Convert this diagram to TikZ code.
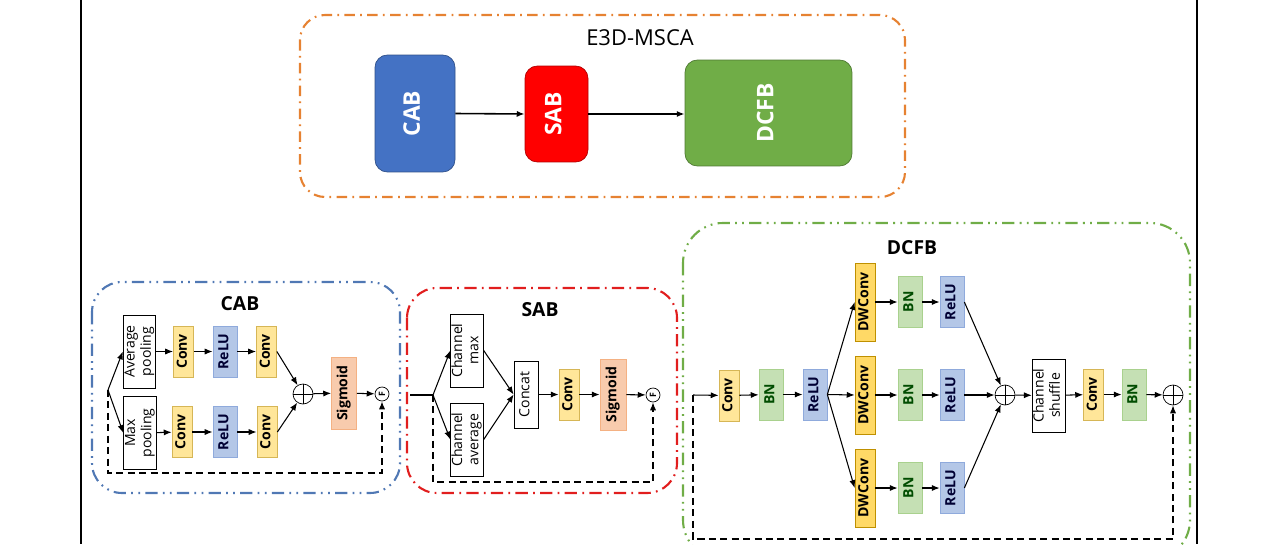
\documentclass[tikz,border=0pt]{standalone}
\usepackage{graphicx}
\usepackage{fontspec}
\setmainfont{Open Sans}
\usepackage{tikz}
\usetikzlibrary{
	arrows.meta,
	calc,
	positioning
}
\definecolor{FrameOrange}{RGB}{230,130,50}
\definecolor{FrameBlue}{RGB}{80,120,180}
\definecolor{FrameRed}{RGB}{225,30,30}
\definecolor{FrameGreen}{RGB}{112,173,71}
\definecolor{CabBlue}{RGB}{68,114,196}
\definecolor{SabRed}{RGB}{255,0,0}
\definecolor{DcfbGreen}{RGB}{112,173,71}
\definecolor{ConvFill}{RGB}{255,230,153}
\definecolor{ConvLine}{RGB}{214,182,86}
\definecolor{DwFill}{RGB}{255,217,102}
\definecolor{DwLine}{RGB}{191,144,0}
\definecolor{ReluFill}{RGB}{180,199,231}
\definecolor{ReluLine}{RGB}{143,170,220}
\definecolor{BnFill}{RGB}{197,224,180}
\definecolor{BnLine}{RGB}{169,209,142}
\definecolor{SigFill}{RGB}{248,203,173}
\definecolor{SigLine}{RGB}{244,177,131}
\newcommand{\vtext}[1]{\rotatebox{90}{\begin{tabular}{@{}c@{}}#1\end{tabular}}}

\begin{document}
\begin{tikzpicture}[x=0.02cm, y=-0.02cm,
		blk/.style={inner sep=0pt, font=\fontsize{8}{9.5}\selectfont\bfseries},
		convbox/.style={blk, draw=ConvLine, fill=ConvFill, minimum width=0.4cm, minimum height=1.02cm},
		dwbox/.style={blk, draw=DwLine, fill=DwFill, minimum width=0.4cm, minimum height=1.56cm},
		relubox/.style={blk, draw=ReluLine, fill=ReluFill, minimum width=0.48cm, minimum height=1.02cm, text=black!80!blue},
		bnbox/.style={blk, draw=BnLine, fill=BnFill, minimum width=0.48cm, minimum height=1.02cm, text=black!70!green},
		sigbox/.style={blk, draw=SigLine, fill=SigFill, minimum width=0.5cm, minimum height=1.44cm},
		txtbox/.style={blk, draw, fill=white, minimum width=0.63cm, minimum height=1.46cm, font=\fontsize{8}{9.3}\selectfont},
		bigbox/.style={inner sep=0pt, draw, rounded corners=7pt, text=white, font=\fontsize{13}{13}\selectfont\bfseries},
		addc/.style={circle, draw, minimum size=0.4cm, inner sep=0pt, path picture={
				\draw (path picture bounding box.north) -- (path picture bounding box.south)
				(path picture bounding box.west) -- (path picture bounding box.east);}},
		fcirc/.style={circle, draw, minimum size=0.28cm, inner sep=0pt, font=\fontsize{5}{5}\selectfont\bfseries},
		frame/.style={line width=1.2pt, rounded corners=0.6cm},
		title/.style={font=\fontsize{11}{11}\selectfont\bfseries},
		arr/.style={-{Latex[length=4.5pt, width=3.5pt]}, line width=0.6pt},
		skip/.style={-{Latex[length=4.5pt, width=3.5pt]}, line width=0.6pt, dashed, dash pattern=on 4pt off 2.5pt}
	]
	\useasboundingbox (0,0) rectangle (1280,544);
	% page edges
	\draw[line width=1.3pt] (81,0) -- (81,544);
	\draw[line width=1.3pt] (1197,0) -- (1197,544);
	
	% overview
	\draw[frame, FrameOrange, rounded corners=0.5cm, dash pattern=on 6pt off 3pt on 1pt off 3pt] (300,15) rectangle (905,197);
	\node[font=\fontsize{12.5}{12}\selectfont] at (640,38) {E3D-MSCA};
	\node[bigbox, fill=CabBlue, draw=CabBlue!70!black, minimum width=1.6cm, minimum height=2.34cm] (cabT) at (415,113.5) {\vtext{CAB}};
	\node[bigbox, fill=SabRed, draw=SabRed!70!black, minimum width=1.26cm, minimum height=1.92cm] (sabT) at (556.5,114) {\vtext{SAB}};
	\node[bigbox, fill=DcfbGreen, draw=DcfbGreen!70!black, minimum width=3.34cm, minimum height=2.12cm] (dcfbT) at (768.5,113) {\vtext{DCFB}};
	\draw[arr, line width=0.9pt] (cabT.east) -- (sabT.west);
	\draw[arr, line width=0.9pt] (sabT.east) -- (dcfbT.west |- sabT.east);
	
	% CAB
	\draw[frame, FrameBlue, dash pattern=on 7pt off 3pt on 1pt off 3pt on 1pt off 3pt] (92,282) rectangle (400,493);
	\node[title] at (240,304) {CAB};
	\coordinate (cabin) at (108,390);
	\node[txtbox] (avgp) at (139.5,351.5) {\vtext{Average\\pooling}};
	\node[txtbox] (maxp) at (140,433) {\vtext{Max\\pooling}};
	\node[convbox] (c1) at (183.5,351.5) {\vtext{Conv}};
	\node[relubox] (r1) at (225,351.5) {\vtext{ReLU}};
	\node[convbox] (c2) at (266.5,351.5) {\vtext{Conv}};
	\node[convbox] (c3) at (182,432) {\vtext{Conv}};
	\node[relubox] (r2) at (225,432) {\vtext{ReLU}};
	\node[convbox] (c4) at (267,432) {\vtext{Conv}};
	\node[addc] (cadd) at (303,394) {};
	\node[sigbox] (csig) at (344,393) {\vtext{Sigmoid}};
	\node[fcirc] (cf) at (382,394) {\rotatebox{90}{F}};
	\draw[arr] (cabin) -- (avgp.west);
	\draw[arr] (cabin) -- (maxp.west);
	\draw[arr] (avgp) -- (c1);
	\draw[arr] (c1) -- (r1);
	\draw[arr] (r1) -- (c2);
	\draw[arr] (maxp) -- (c3);
	\draw[arr] (c3) -- (r2);
	\draw[arr] (r2) -- (c4);
	\draw[arr] (c2.east) -- (cadd);
	\draw[arr] (c4.east) -- (cadd);
	\draw[arr] (cadd) -- (csig);
	\draw[arr] (csig) -- (cf);
	\draw[skip] (cabin) -- ++(0,83) -| (cf.south);
	
	% SAB
	\draw[frame, FrameRed, dash pattern=on 7pt off 3pt on 1pt off 3pt] (407,288) rectangle (677,493);
	\node[title] at (540,310) {SAB};
	\coordinate (sabin) at (410,395);
	\coordinate (sabsp) at (433,395);
	\node[txtbox] (chmax) at (467,350.5) {\vtext{Channel\\max}};
	\node[txtbox] (chavg) at (467,439.5) {\vtext{Channel\\average}};
	\node[txtbox, minimum width=0.48cm, minimum height=1.34cm] (concat) at (526,394.5) {\vtext{Concat}};
	\node[convbox] (sconv) at (569,394.5) {\vtext{Conv}};
	\node[sigbox, minimum width=0.52cm, minimum height=1.42cm] (ssig) at (613,394.5) {\vtext{Sigmoid}};
	\node[fcirc] (sf) at (653,395) {\rotatebox{90}{F}};
	\draw[line width=0.6pt] (sabin) -- (sabsp);
	\draw[arr] (sabsp) -- (chmax.west);
	\draw[arr] (sabsp) -- (chavg.west);
	\draw[arr] (chmax.east) -- (concat.west);
	\draw[arr] (chavg.east) -- (concat.west);
	\draw[arr] (concat) -- (sconv);
	\draw[arr] (sconv) -- (ssig);
	\draw[arr] (ssig) -- (sf);
	\draw[skip] (sabsp) -- ++(0,87) -| (sf.south);
	
	% DCFB
	\draw[frame, FrameGreen, rounded corners=0.8cm, dash pattern=on 7pt off 3pt on 1pt off 3pt on 1pt off 3pt] (683,223) rectangle (1190,560);
	\node[title] at (912,248) {DCFB};
	\coordinate (din) at (693,395);
	\node[convbox] (dconv) at (729,395.5) {\vtext{Conv}};
	\node[bnbox] (dbn) at (771,394.5) {\vtext{BN}};
	\node[relubox] (drelu) at (815,394.5) {\vtext{ReLU}};
	\foreach \i/\y in {1/302,2/395,3/488}{
		\node[dwbox] (dw\i) at (865,\y) {\vtext{DWConv}};
		\node[bnbox] (bn\i) at (910,\y) {\vtext{BN}};
		\node[relubox] (re\i) at (952,\y) {\vtext{ReLU}};
		\draw[arr] (drelu.east) -- (dw\i.west);
		\draw[arr] (dw\i) -- (bn\i);
		\draw[arr] (bn\i) -- (re\i);
	}
	\node[addc] (dadd) at (1005,395) {};
	\node[txtbox] (shuf) at (1048.5,395.5) {\vtext{Channel\\shuffle}};
	\node[convbox] (dconv2) at (1093.5,394.5) {\vtext{Conv}};
	\node[bnbox] (dbn2) at (1134,394.5) {\vtext{BN}};
	\node[addc] (dadd2) at (1173,395) {};
	\draw[arr] (din) -- (dconv);
	\draw[arr] (dconv) -- (dbn);
	\draw[arr] (dbn) -- (drelu);
	\foreach \i in {1,2,3}
		\draw[arr] (re\i.east) -- (dadd);
	\draw[arr] (dadd) -- (shuf);
	\draw[arr] (shuf) -- (dconv2);
	\draw[arr] (dconv2) -- (dbn2);
	\draw[arr] (dbn2) -- (dadd2);
	\draw[skip] (din) -- (693,539) -| (dadd2.south);
\end{tikzpicture}
\end{document}
